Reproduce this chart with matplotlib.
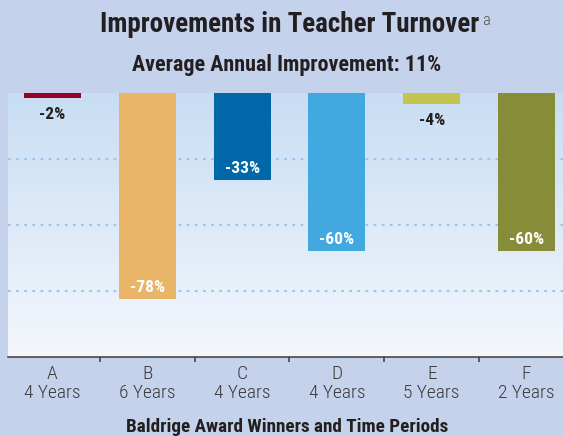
import numpy as np
import matplotlib.pyplot as plt
from matplotlib import font_manager

winners = ['A', 'B', 'C', 'D', 'E', 'F']
periods = ['4 Years', '6 Years', '4 Years', '4 Years', '5 Years', '2 Years']
changes = [-2, -78, -33, -60, -4, -60]
colors = ['#990029', '#E7B468', '#0068A8', '#41A8E0', '#C3C550', '#868C38']
grid_vals = [-25, -50, -75]

names = {f.name for f in font_manager.fontManager.ttflist}
family = 'DejaVu Sans'
for cand in ['Roboto Condensed', 'Liberation Sans Narrow', 'IBM Plex Sans Condensed',
             'Barlow Condensed', 'Asap Condensed']:
    if cand in names:
        family = cand
        break
plt.rcParams['font.family'] = [family, 'DejaVu Sans']

bg = '#C5D2EC'
W, H = 563, 436
fig = plt.figure(figsize=(W / 100, H / 100), dpi=100, facecolor=bg)
ax = fig.add_axes([8 / W, 1 - 357 / H, 555 / W, (357 - 93) / H])
renderer = fig.canvas.get_renderer()


def fit(txt, width_px, size):
    bb = txt.get_window_extent(renderer)
    txt.set_fontsize(size * width_px / bb.width)


x = np.arange(len(winners))
ax.set_xlim(-0.468, 5.384)
ax.set_ylim(-100, 0)

# gradient background of the plot area
t = np.linspace(0, 1, 256)[:, None]
top = np.array([0xC8, 0xDD, 0xF3]) / 255
bot = np.array([0xF4, 0xF7, 0xFC]) / 255
img = (top + (bot - top) * t).reshape(256, 1, 3)
ax.imshow(img, extent=[0, 1, 0, 1], transform=ax.transAxes, aspect='auto', zorder=0)

for g in grid_vals:
    ax.axhline(g, color='#9CC6EC', lw=1.5, ls=(0, (1.3, 2.6)), zorder=1)

ax.bar(x, changes, width=0.6, color=colors, zorder=2)

for xi, v in zip(x, changes):
    if v > -10:
        ax.annotate(f'{v}%', (xi, v), xytext=(0, -12), textcoords='offset points',
                    ha='center', va='center', fontsize=12.5, fontweight='bold',
                    color='#231F20', zorder=3)
    else:
        ax.annotate(f'{v}%', (xi, v), xytext=(0, 8.5), textcoords='offset points',
                    ha='center', va='center', fontsize=12.5, fontweight='bold',
                    color='white', zorder=3)

for s in ['top', 'left', 'right']:
    ax.spines[s].set_visible(False)
ax.spines['bottom'].set_color('#3A3A3A')
ax.spines['bottom'].set_linewidth(1.1)
ax.spines['bottom'].set_zorder(4)
ax.set_yticks([])

ax.set_xticks(x)
ax.set_xticklabels([f'{w}\n{p}' for w, p in zip(winners, periods)],
                   fontsize=14, fontweight='light', color='#3A3A3A', linespacing=1.05)
ax.tick_params(axis='x', which='major', length=0, pad=6)
ax.set_xticks(x[:-1] + 0.5, minor=True)
ax.tick_params(axis='x', which='minor', length=3.5, width=1.1, color='#3A3A3A')

xl = ax.set_xlabel('Baldrige Award Winners and Time Periods', fontsize=12.5,
                   fontweight='bold', color='#231F20', va='baseline')
ax.xaxis.set_label_coords((287.5 - 8) / 555, -(432 - 357) / 264)
fit(xl, 321, 12.5)

# titles, sized to match the reference widths
title = fig.text(289.5 / W, 1 - 32 / H, 'Improvements in Teacher Turnover', ha='center',
                 va='baseline', fontsize=18, fontweight='bold', color='#231F20')
fit(title, 379, 18)
sub = fig.text(287 / W, 1 - 71 / H, 'Average Annual Improvement: 11%', ha='center',
               va='baseline', fontsize=13, fontweight='bold', color='#231F20')
fit(sub, 307, 13)

tb = title.get_window_extent(renderer)
fig.text((tb.x1 + 3) / W, 1 - 25 / H, 'a', ha='left', va='baseline', fontsize=12,
         fontweight='light', color='#555555')

fig.savefig('out.png', dpi=100, facecolor=bg)
